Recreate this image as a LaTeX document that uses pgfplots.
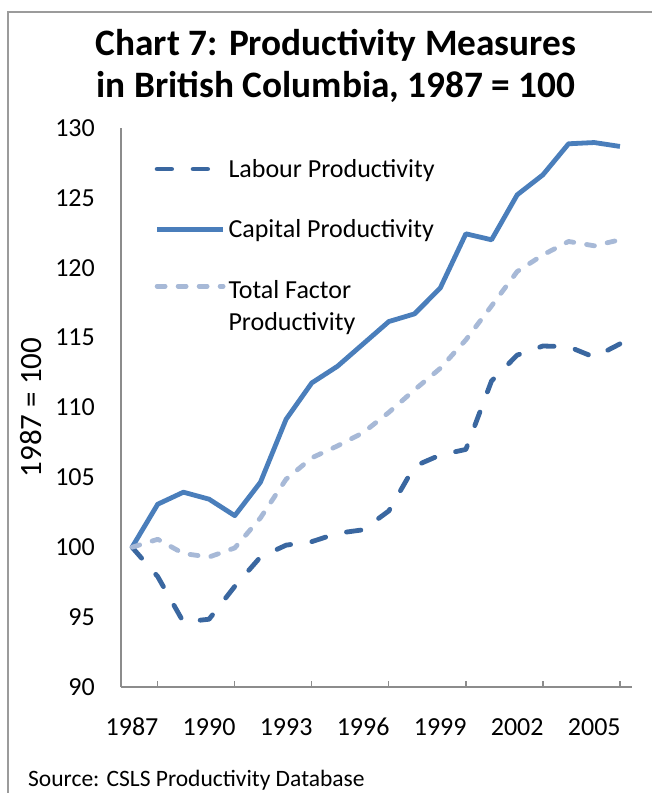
\documentclass[border=0pt]{standalone}
\usepackage{pgfplots}
\pgfplotsset{compat=1.18}
\usepackage{fontspec}
\setmainfont{Carlito}
\definecolor{labc}{RGB}{58,103,160}
\definecolor{capc}{HTML}{4A7EBB}
\definecolor{tfpc}{RGB}{167,185,215}
\definecolor{framec}{RGB}{155,155,155}
\definecolor{axisgray}{RGB}{140,140,140}
\begin{document}
\begin{tikzpicture}[x=1pt,y=1pt]
\useasboundingbox (0,0) rectangle (652,793);
\draw[framec, line width=2pt] (8,-20) -- (8,781) -- (720,781);
\node[font=\fontsize{37.3}{42}\selectfont\bfseries, anchor=base] at (336,737) {Chart 7: Productivity Measures};
\node[font=\fontsize{37.3}{42}\selectfont\bfseries, anchor=base] at (336,695) {in British Columbia, 1987 = 100};
\node[font=\fontsize{23.5}{28}\selectfont, anchor=base west, inner sep=0pt] at (28,6) {Source: CSLS Productivity Database};
\begin{axis}[
  at={(121pt,106pt)}, anchor=south west,
  scale only axis, width=511pt, height=559pt,
  xmin=1986.57, xmax=2006.47, ymin=90, ymax=130,
  axis x line*=bottom, axis y line*=left,
  axis line style={draw=axisgray, line width=1.3pt},
  xtick={1987,1990,...,2005}, ytick={90,95,...,130},
  major tick length=0pt,
  extra x ticks={1988,1991,...,2006}, extra x tick labels={},
  extra x tick style={major tick length=6pt, tick align=inside, major tick style={draw=axisgray, line width=1.3pt}},
  /pgf/number format/assume math mode=true,
  /pgf/number format/1000 sep={},
  xticklabel style={font=\fontsize{26}{31}\selectfont, inner sep=0pt, anchor=north, yshift=-31pt},
  yticklabel style={font=\fontsize{26}{31}\selectfont, inner sep=0pt, anchor=east, xshift=-26pt},
  ylabel={1987 = 100},
  every axis y label/.style={at={(axis description cs:-0.176,0.5)}, rotate=90, anchor=center, font=\fontsize{31}{37}\selectfont},
  legend image code/.code={\draw[#1] plot coordinates {(0pt,0pt) (33pt,0pt) (66pt,0pt)};},
  legend style={draw=none, fill=none, at={(axis description cs:0.0656,0.9444)}, anchor=north west,
    inner sep=0pt, font=\fontsize{26}{31}\selectfont, row sep=41pt, column sep=3pt,
    nodes={inner sep=0pt}},
  legend cell align=left,
  clip=false,
]
\addplot[labc, line width=4.8pt, line cap=round, line join=round, dash pattern=on 14.5pt off 21.5pt] coordinates {
(1987,100) (1988,97.9) (1989,94.65) (1990,94.85) (1991,97.2) (1992,99.3) (1993,100.15) (1994,100.4) (1995,101.0) (1996,101.25)
(1997,102.6) (1998,105.8) (1999,106.6) (2000,107.0) (2001,111.9) (2002,113.75) (2003,114.4) (2004,114.35) (2005,113.6) (2006,114.55)};
\addlegendentry{Labour Productivity}
\addplot[capc, line width=4.8pt, line join=round] coordinates {
(1987,100) (1988,103.08) (1989,103.94) (1990,103.44) (1991,102.26) (1992,104.65) (1993,109.16) (1994,111.76) (1995,112.95) (1996,114.55)
(1997,116.15) (1998,116.7) (1999,118.54) (2000,122.43) (2001,122.0) (2002,125.22) (2003,126.65) (2004,128.87) (2005,128.96) (2006,128.68)};
\addlegendentry{Capital Productivity}
\addplot[tfpc, line width=4.8pt, line cap=round, line join=round, dash pattern=on 8pt off 13pt] coordinates {
(1987,100) (1988,100.57) (1989,99.55) (1990,99.3) (1991,99.95) (1992,102.1) (1993,104.87) (1994,106.4) (1995,107.25) (1996,108.2)
(1997,109.65) (1998,111.26) (1999,112.8) (2000,114.84) (2001,117.27) (2002,119.73) (2003,120.92) (2004,121.88) (2005,121.57) (2006,122.0)};
\addlegendentry{\raisebox{-8pt}[10pt][10pt]{\begin{tabular}[t]{@{}l@{}}Total Factor\\[1.5pt]Productivity\end{tabular}}}
\end{axis}
\end{tikzpicture}
\end{document}
